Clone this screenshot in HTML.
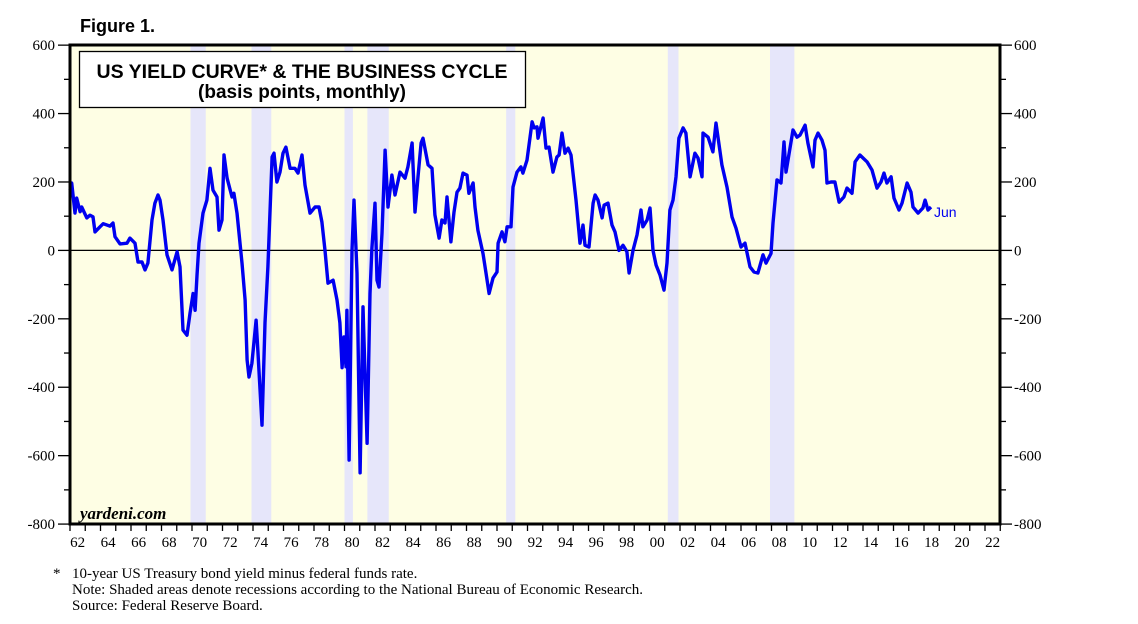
<!DOCTYPE html>
<html><head><meta charset="utf-8"><style>
html,body{margin:0;padding:0;background:#fff;}
svg{display:block;}
</style></head><body>
<svg id="chart" width="1138" height="624" viewBox="0 0 1138 624" xmlns="http://www.w3.org/2000/svg">
<text x="80" y="32" font-family="Liberation Sans, sans-serif" font-weight="bold" font-size="18">Figure 1.</text>
<rect x="71" y="45" width="929" height="479" fill="#fefee4"/>
<g id="rec"></g>
<line x1="71" y1="250.4" x2="1000" y2="250.4" stroke="#000" stroke-width="1.3"/>
<g id="ticks"></g>
<path id="line" fill="none" stroke="#0000f0" stroke-width="3.4" stroke-linejoin="round"/>
<text x="934" y="217" font-family="Liberation Sans, sans-serif" font-size="14" fill="#0000f0">Jun</text>
<rect x="70" y="45" width="930" height="479" fill="none" stroke="#000" stroke-width="3"/>
<rect x="79.5" y="51.5" width="446" height="56" fill="#fff" stroke="#000" stroke-width="1.3"/>
<text x="302" y="78" text-anchor="middle" font-family="Liberation Sans, sans-serif" font-weight="bold" font-size="19.5">US YIELD CURVE* &amp; THE BUSINESS CYCLE</text>
<text x="302" y="98" text-anchor="middle" font-family="Liberation Sans, sans-serif" font-weight="bold" font-size="19">(basis points, monthly)</text>
<text x="80" y="519" font-family="Liberation Serif, serif" font-style="italic" font-weight="bold" font-size="17">yardeni.com</text>
<g font-family="Liberation Serif, serif" font-size="15" fill="#000">
<text x="53" y="578">*</text>
<text x="72" y="578">10-year US Treasury bond yield minus federal funds rate.</text>
<text x="72" y="594">Note: Shaded areas denote recessions according to the National Bureau of Economic Research.</text>
<text x="72" y="610">Source: Federal Reserve Board.</text>
</g>
</svg>
<script>
const yTickValues=[600,400,200,0,-200,-400,-600,-800];
const xTickLabels=["62","64","66","68","70","72","74","76","78","80","82","84","86","88","90","92","94","96","98","00","02","04","06","08","10","12","14","16","18","20","22"];
const recStart=[1969.9,1973.9,1980.0,1981.5,1990.6,2001.2,2007.9];
const recEnd=[1970.9,1975.2,1980.55,1982.9,1991.2,2001.9,2009.5];
const years=[1962.00,1962.11,1962.33,1962.44,1962.66,1962.77,1963.10,1963.31,1963.51,1963.64,1963.97,1964.18,1964.62,1964.82,1964.95,1965.28,1965.74,1965.93,1966.26,1966.46,1966.72,1966.92,1967.11,1967.38,1967.57,1967.77,1967.90,1968.10,1968.36,1968.69,1969.02,1969.21,1969.41,1969.67,1969.87,1970.07,1970.20,1970.33,1970.46,1970.72,1970.98,1971.18,1971.38,1971.64,1971.77,1971.97,1972.10,1972.30,1972.62,1972.75,1972.95,1973.28,1973.48,1973.61,1973.74,1973.93,1974.20,1974.33,1974.59,1974.79,1974.98,1975.25,1975.38,1975.57,1975.77,1975.97,1976.16,1976.43,1976.75,1976.95,1977.21,1977.41,1977.74,1978.07,1978.33,1978.52,1978.72,1978.92,1979.25,1979.51,1979.70,1979.84,1979.97,1980.10,1980.16,1980.30,1980.49,1980.62,1980.82,1981.02,1981.21,1981.48,1981.67,1981.80,1982.00,1982.13,1982.26,1982.46,1982.66,1982.85,1983.11,1983.31,1983.64,1983.97,1984.16,1984.43,1984.62,1984.82,1985.02,1985.15,1985.48,1985.74,1985.93,1986.20,1986.39,1986.59,1986.72,1986.98,1987.18,1987.38,1987.57,1987.77,1988.03,1988.16,1988.43,1988.56,1988.75,1989.08,1989.28,1989.48,1989.74,1990.00,1990.07,1990.33,1990.52,1990.66,1990.92,1991.05,1991.31,1991.57,1991.70,1991.97,1992.30,1992.43,1992.62,1992.69,1993.02,1993.21,1993.41,1993.67,1993.93,1994.07,1994.26,1994.46,1994.66,1994.85,1994.98,1995.18,1995.44,1995.64,1995.77,1996.03,1996.30,1996.43,1996.62,1996.89,1997.02,1997.28,1997.54,1997.74,1998.00,1998.26,1998.52,1998.66,1998.92,1999.18,1999.44,1999.57,1999.84,2000.03,2000.23,2000.43,2000.69,2000.95,2001.15,2001.34,2001.54,2001.74,2001.93,2002.20,2002.39,2002.66,2002.98,2003.18,2003.44,2003.51,2003.84,2004.16,2004.36,2004.75,2005.08,2005.41,2005.67,2006.00,2006.26,2006.59,2006.85,2007.11,2007.44,2007.64,2007.97,2008.10,2008.36,2008.62,2008.82,2008.95,2009.08,2009.41,2009.67,2009.87,2010.20,2010.39,2010.72,2010.85,2011.05,2011.31,2011.51,2011.64,2011.90,2012.16,2012.43,2012.75,2012.95,2013.28,2013.48,2013.80,2014.00,2014.26,2014.59,2014.92,2015.18,2015.38,2015.57,2015.84,2016.03,2016.36,2016.56,2016.89,2017.15,2017.28,2017.61,2017.93,2018.07,2018.26,2018.46];
const values=[176,197,109,153,113,127,95,103,98,54,69,78,71,80,40,19,21,36,21,-34,-34,-57,-37,89,138,162,147,89,-13,-57,-4,-48,-233,-248,-184,-126,-175,-73,21,109,147,240,176,156,59,89,279,211,156,167,109,-37,-145,-320,-370,-330,-204,-300,-511,-212,-48,273,284,200,229,284,302,240,240,226,279,191,109,127,127,83,0,-96,-87,-145,-212,-343,-253,-340,-175,-613,0,147,-66,-650,-165,-564,-126,6,138,-87,-107,50,293,127,220,162,229,211,244,314,112,215,314,328,250,240,104,36,89,80,156,25,112,170,182,226,220,167,197,127,59,-9,-66,-126,-81,-63,21,54,25,69,69,185,229,244,226,264,376,358,361,328,387,299,302,229,273,279,343,284,299,279,229,147,21,74,15,10,138,162,147,95,132,138,74,54,0,15,-4,-66,0,45,118,69,89,124,0,-43,-72,-116,-37,118,147,215,328,358,343,215,284,270,215,343,331,288,372,250,185,98,65,10,21,-48,-63,-66,-13,-37,-9,80,206,197,317,229,264,352,331,337,366,314,244,322,343,322,293,197,200,200,141,156,182,167,259,279,270,259,235,182,200,226,197,215,153,118,138,197,170,127,109,124,147,118,127];

const X0=70, XPY=15.25, Y0=250.4, YPU=0.3421;
function xs(yr){return X0+(yr-1962)*XPY;}
function ys(v){return Y0-v*YPU;}
const NS="http://www.w3.org/2000/svg";
const rec=document.getElementById('rec');
for(let i=0;i<recStart.length;i++){
  const r=document.createElementNS(NS,'rect');
  r.setAttribute('x',xs(recStart[i]));r.setAttribute('y',45);
  r.setAttribute('width',xs(recEnd[i])-xs(recStart[i]));r.setAttribute('height',479);
  r.setAttribute('fill','#e6e6fa');
  
  
  rec.appendChild(r);
}
const tk=document.getElementById('ticks');
function ln(x1,y1,x2,y2,w){const l=document.createElementNS(NS,'line');l.setAttribute('x1',x1);l.setAttribute('y1',y1);l.setAttribute('x2',x2);l.setAttribute('y2',y2);l.setAttribute('stroke','#000');l.setAttribute('stroke-width',w||1.3);tk.appendChild(l);return l;}
function tx(x,y,s,anchor){const t=document.createElementNS(NS,'text');t.setAttribute('x',x);t.setAttribute('y',y);t.setAttribute('text-anchor',anchor);t.setAttribute('font-family','Liberation Serif, serif');t.setAttribute('font-size','15');t.textContent=s;tk.appendChild(t);return t;}
for(let v=-800;v<=600;v+=100){
  const y=ys(v);
  const lt=ln(v%200===0?58:64,y,70,y);
  
  
  const rt=ln(1000,y,v%200===0?1012:1006,y);
  
  
}
yTickValues.forEach(v=>{
  const a=tx(55,ys(v)+5,String(v),'end');
  
  
  const b=tx(1014,ys(v)+5,String(v),'start');
  
  
});
for(let yr=1962;yr<=2023;yr++){
  const t=ln(xs(yr),524,xs(yr),531);
  
  
}
xTickLabels.forEach((s,i)=>{
  const t=tx(xs(1962+2*i+0.5),547,s,'middle');
  
  
});
let d='';
for(let i=0;i<years.length;i++){d+=(i?'L':'M')+xs(years[i]).toFixed(1)+' '+ys(values[i]).toFixed(1);}
document.getElementById('line').setAttribute('d',d);
</script>
</body></html>
